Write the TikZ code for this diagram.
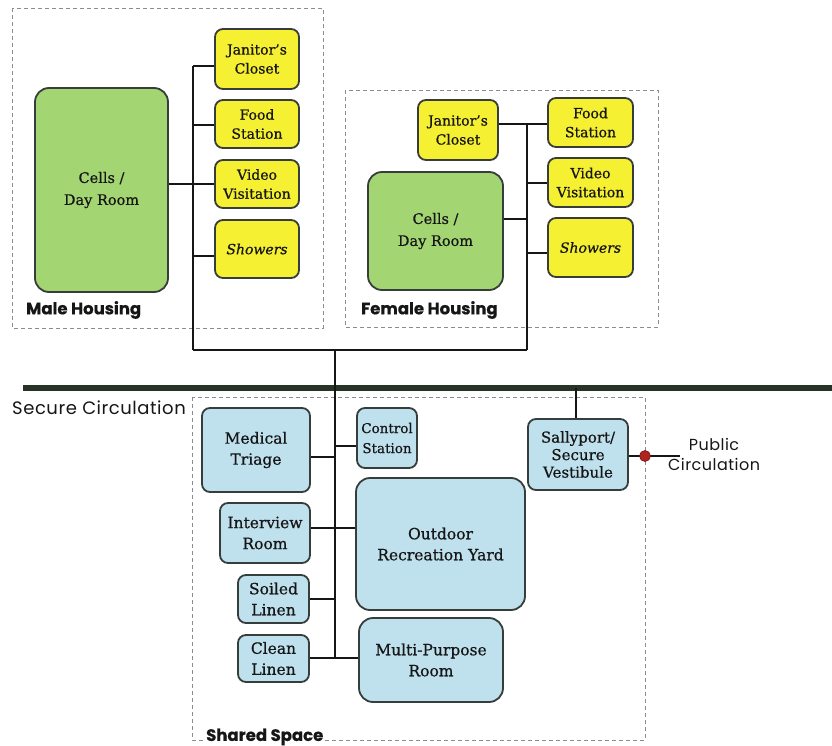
\documentclass[tikz,border=0pt]{standalone}
\usepackage{fontspec}
\setmainfont[FakeBold=0.6]{DejaVu Serif}
\newfontfamily\labelfont[LetterSpace=3]{Poppins}
\newfontfamily\zonefont[FakeBold=0.5]{Poppins}
\usetikzlibrary{positioning}

\definecolor{ink}{HTML}{161616}
\definecolor{boxline}{HTML}{363D3A}
\definecolor{cellgreen}{HTML}{A3D672}
\definecolor{svcyellow}{HTML}{F6F032}
\definecolor{sharedblue}{HTML}{BFE1EE}
\definecolor{zonegray}{HTML}{8C8C8C}
\definecolor{corridor}{HTML}{263326}
\definecolor{gate}{HTML}{B3231E}

\tikzset{
  room/.style={draw=boxline, line width=1.8pt, rounded corners=8pt, inner sep=0pt,
    align=center, text=ink, font=\fontsize{14}{19}\selectfont},
  sz/.style n args={2}{minimum width=#1pt, minimum height=#2pt},
  cellsbox/.style={room, fill=cellgreen, rounded corners=14pt, font=\fontsize{14.5}{22}\selectfont},
  svcbox/.style={room, fill=svcyellow},
  sharedbox/.style={room, fill=sharedblue, font=\fontsize{15.5}{21}\selectfont},
  bigshared/.style={sharedbox, rounded corners=14pt},
  zone/.style={draw=zonegray, line width=0.8pt, dash pattern=on 4pt off 3pt},
  link/.style={draw=ink, line width=1.3pt},
  zonelabel/.style={font=\zonefont\bfseries\fontsize{16.5}{18}\selectfont, text=ink, inner sep=1pt},
  plainlabel/.style={font=\labelfont\fontsize{16}{20}\selectfont, text=ink, align=center, inner sep=0pt},
  gatedot/.style={circle, fill=gate, draw=gate!60!black, line width=0.6pt, minimum size=11pt, inner sep=0pt},
}

\begin{document}
\begin{tikzpicture}[x=1pt, y=-1pt]
\useasboundingbox (0,0) rectangle (832,746);

% ---------- zone outlines ----------
\draw[zone] (12,8) rectangle (323,328);
\draw[zone] (345,90) rectangle (658,327);
\draw[zone] (192,397) rectangle (645,740);

% ---------- secure circulation corridor ----------
\coordinate (tl) at (23,388);
\coordinate (tr) at (832,388);
\draw[corridor, line width=5.5pt] (tl) -- (tr);
\node[plainlabel, font=\labelfont\fontsize{18}{20}\selectfont, anchor=west] (seccirc) at (12,408) {Secure Circulation};

% ---------- male housing ----------
\node[cellsbox, sz={133}{204}] (mcells) at (101.5,190) {Cells /\\Day Room};
\node[svcbox, sz={84}{60}] (mjan)  at (257,59)  {Janitor's\\Closet};
\node[svcbox, sz={84}{48}] (mfood) at (257,124) {Food\\Station};
\node[svcbox, sz={84}{48}] (mvid)  at (257,184) {Video\\Visitation};
\node[svcbox, sz={84}{58}] (mshow) at (257,249) {\itshape Showers};
\node[zonelabel, anchor=west] (mlabel) at (25,310) {Male Housing};

\coordinate (mj1) at (193,66);
\coordinate (mj2) at (193,125);
\coordinate (mj3) at (193,184);
\coordinate (mj4) at (193,256);
\coordinate (hl)  at (193,350);

\draw[link] (mj1) -- (hl);
\draw[link] (mj1) -- (mj1 -| mjan.west);
\draw[link] (mj2) -- (mj2 -| mfood.west);
\draw[link] (mj3 -| mcells.east) -- (mj3 -| mvid.west);
\draw[link] (mj4) -- (mj4 -| mshow.west);

% ---------- female housing ----------
\node[svcbox, sz={80}{60}] (fjan)  at (458,130) {Janitor's\\Closet};
\node[cellsbox, sz={135}{118}] (fcells) at (435.5,231) {Cells /\\Day Room};
\node[svcbox, sz={85}{49}] (ffood) at (590.5,122.5) {Food\\Station};
\node[svcbox, sz={85}{49}] (fvid)  at (590.5,182.5) {Video\\Visitation};
\node[svcbox, sz={85}{59}] (fshow) at (590.5,247.5) {\itshape Showers};
\node[zonelabel, anchor=west] (flabel) at (360,310) {Female Housing};

\coordinate (fj1) at (527,124);
\coordinate (fj2) at (527,183);
\coordinate (fj3) at (527,219);
\coordinate (fj4) at (527,253);
\coordinate (hr)  at (527,350);

\draw[link] (fj1) -- (hr);
\draw[link] (fj1 -| fjan.east) -- (fj1 -| ffood.west);
\draw[link] (fj2) -- (fj2 -| fvid.west);
\draw[link] (fj3) -- (fj3 -| fcells.east);
\draw[link] (fj4) -- (fj4 -| fshow.west);

% ---------- link between housing units and shared space ----------
\draw[link] (hl) -- (hr);

% ---------- shared space ----------
\node[sharedbox, sz={108}{84}] (med)   at (256,450)   {Medical\\Triage};
\node[sharedbox, sz={60}{60}, font=\fontsize{13.5}{20}\selectfont] (ctrl) at (387,438) {Control\\Station};
\node[sharedbox, sz={90}{60}]  (intv)  at (265,533)   {Interview\\Room};
\node[bigshared, sz={169}{132}] (yard) at (440.5,544) {Outdoor\\Recreation Yard};
\node[sharedbox, sz={71}{48}]  (soil)  at (273.5,599) {Soiled\\Linen};
\node[sharedbox, sz={71}{47}]  (clean) at (273.5,658.5) {Clean\\Linen};
\node[bigshared, sz={144}{84}] (mpr)   at (431,660)   {Multi-Purpose\\Room};
\node[sharedbox, sz={100}{71}, font=\fontsize{15}{17.5}\selectfont] (sally) at (578,454.5) {Sallyport/\\Secure\\Vestibule};

\coordinate (s0) at (335,350);
\coordinate (s1) at (335,446);
\coordinate (s2) at (335,457);
\coordinate (s3) at (335,528);
\coordinate (s4) at (335,599);
\coordinate (s5) at (335,658);

\draw[link] (s0) -- (s5);
\draw[link] (s1) -- (s1 -| ctrl.west);
\draw[link] (s2) -- (s2 -| med.east);
\draw[link] (s3 -| intv.east) -- (s3 -| yard.west);
\draw[link] (s4) -- (s4 -| soil.east);
\draw[link] (s5 -| clean.east) -- (s5 -| mpr.west);

\node[zonelabel, fill=white, anchor=west] (slabel) at (205,737) {Shared Space};

% ---------- sallyport to public circulation ----------
\coordinate (pend) at (680,456);
\draw[link] ([xshift=-2pt]sally.north) -- ([xshift=-2pt]sally.north |- tl);
\draw[link] (pend -| sally.east) -- (pend);
\node[gatedot] (gate) at (645,456) {};
\node[plainlabel] (public) at (714,454) {Public\\Circulation};
\end{tikzpicture}
\end{document}
